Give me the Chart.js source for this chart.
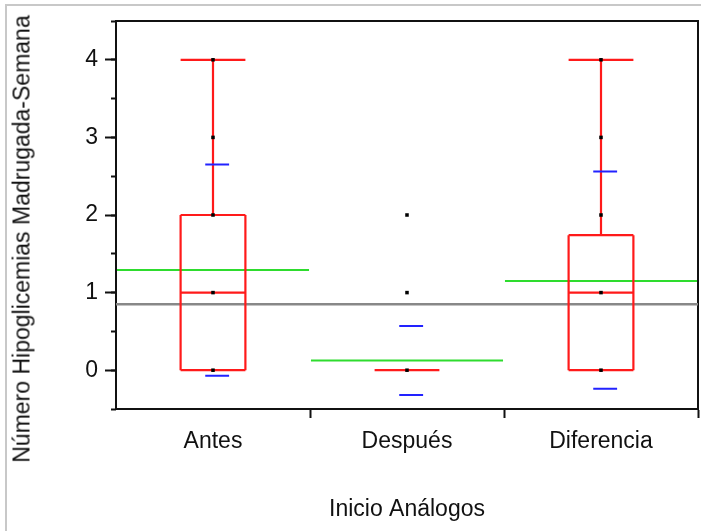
<!DOCTYPE html>
<html>
<head>
<meta charset="utf-8">
<script src="https://cdn.jsdelivr.net/npm/chart.js@4"></script>
<style>
  html, body { margin: 0; padding: 0; background: #fff; }
  #wrap { position: relative; width: 701px; height: 531px; overflow: hidden; }
  #frame { position: absolute; left: 5px; top: 4px; width: 720px; height: 560px;
           border-left: 2px solid #c8c8c8; border-top: 2px solid #c8c8c8; }
  #ytitle { position: absolute; left: 22px; top: 239px; transform: translate(-50%, -50%) rotate(-90deg);
            white-space: nowrap; font: 23px "Liberation Sans", Arial, sans-serif; color: #111; }
  canvas { position: absolute; left: 0; top: 0; }
</style>
</head>
<body>
<div id="wrap">
  <div id="frame"></div>
  <canvas id="chart" width="701" height="531"></canvas>
  <div id="ytitle">Número Hipoglicemias Madrugada-Semana</div>
</div>
<script>
const categories = ["Antes", "Después", "Diferencia"];
const mins = [0, 0, 0];
const q1s = [0, 0, 0];
const medians = [1, 0, 1];
const q3s = [2, 0, 1.74];
const maxs = [4, 0, 4];
const means = [1.29, 0.125, 1.15];
const sdHigh = [2.65, 0.57, 2.56];
const sdLow = [-0.07, -0.32, -0.24];
const grandMean = 0.85;
const antesPoints = [0, 1, 2, 3, 4];
const despuesPoints = [0, 1, 2];
const diferenciaPoints = [0, 1, 2, 3, 4];
const xTitle = "Inicio Análogos";

const BOX_W = 0.167;

// turn [x1, y1, x2, y2] pieces into one broken line
function segments(list) {
  const out = [];
  list.forEach(s => {
    out.push({ x: s[0], y: s[1] }, { x: s[2], y: s[3] }, { x: s[2], y: null });
  });
  return out;
}

const boxSegs = [], meanSegs = [], sdSegs = [];
categories.forEach((cat, i) => {
  const c = i + 0.5, l = c - BOX_W, r = c + BOX_W;
  boxSegs.push(
    [l, q1s[i], l, q3s[i]], [r, q1s[i], r, q3s[i]],
    [l, q3s[i], r, q3s[i]], [l, q1s[i], r, q1s[i]],
    [l, medians[i], r, medians[i]],
    [c, q3s[i], c, maxs[i]], [l, maxs[i], r, maxs[i]],
    [c, q1s[i], c, mins[i]], [l, mins[i], r, mins[i]]
  );
  meanSegs.push([i + 0.005, means[i], i + 0.995, means[i]]);
  sdSegs.push([c - 0.04, sdHigh[i], c + 0.083, sdHigh[i]], [c - 0.04, sdLow[i], c + 0.083, sdLow[i]]);
});

const dots = [];
[antesPoints, despuesPoints, diferenciaPoints].forEach((pts, i) => {
  pts.forEach(v => dots.push({ x: i + 0.5, y: v }));
});

Chart.defaults.font.family = "'Liberation Sans', Arial, sans-serif";
Chart.defaults.font.size = 23;
Chart.defaults.color = "#111";

const lineStyle = { type: "line", pointRadius: 0, tension: 0, spanGaps: false, borderCapStyle: "butt", fill: false };

new Chart(document.getElementById("chart"), {
  data: {
    datasets: [
      { type: "scatter", data: dots, pointStyle: "rect", pointRadius: 2.5, borderWidth: 0,
        backgroundColor: "#000", pointHoverRadius: 2.5 },
      { ...lineStyle, data: segments(sdSegs), borderColor: "#2222ff", borderWidth: 2 },
      { ...lineStyle, data: segments(boxSegs), borderColor: "#ff1a1a", borderWidth: 2.2 },
      { ...lineStyle, data: segments(meanSegs), borderColor: "#2edc2e", borderWidth: 2 },
      { ...lineStyle, data: segments([[0, grandMean, 3, grandMean]]), borderColor: "#888", borderWidth: 2.5 }
    ]
  },
  options: {
    responsive: false,
    animation: false,
    events: [],
    layout: { padding: { left: 76, top: 21, right: 3, bottom: 0 } },
    plugins: { legend: { display: false }, tooltip: { enabled: false } },
    scales: {
      x: {
        type: "linear", min: 0, max: 3, position: "bottom",
        afterBuildTicks: s => { s.ticks = [0.5, 1, 1.5, 2, 2.5, 3].map(v => ({ value: v })); },
        afterFit: s => { s.height = 122; s.paddingLeft = 0; s.paddingRight = 0; },
        ticks: { autoSkip: false, maxRotation: 0, padding: 10,
                 callback: v => Number.isInteger(v) ? "" : categories[Math.floor(v)] },
        grid: { drawOnChartArea: false, tickLength: 9, tickWidth: 2,
                tickColor: ctx => (Number.isInteger(ctx.tick.value) && ctx.tick.value > 0) ? "#111" : "rgba(0,0,0,0)" },
        border: { color: "#111", width: 2 },
        title: { display: true, text: xTitle, padding: { top: 0, bottom: 8 } }
      },
      y: {
        type: "linear", min: -0.5, max: 4.5, position: "left", weight: 1,
        afterFit: s => { s.width = 40; },
        ticks: { stepSize: 0.5, padding: 7,
                 callback: v => Number.isInteger(v) ? String(v) : "" },
        grid: { drawOnChartArea: false, tickLength: 11, tickWidth: 2,
                tickColor: ctx => Number.isInteger(ctx.tick.value) ? "#111" : "rgba(0,0,0,0)" },
        border: { color: "#111", width: 2 }
      },
      yMinor: {
        type: "linear", min: -0.5, max: 4.5, position: "left", weight: 0,
        afterFit: s => { s.width = 0; },
        ticks: { display: false, stepSize: 0.5 },
        grid: { drawOnChartArea: false, tickLength: 5, tickWidth: 2, tickColor: "#111" },
        border: { display: false }
      },
      xTop: {
        type: "linear", min: 0, max: 3, position: "top",
        afterFit: s => { s.height = 0; },
        ticks: { display: false },
        grid: { drawOnChartArea: false, drawTicks: false },
        border: { color: "#111", width: 2 }
      },
      yRight: {
        type: "linear", min: -0.5, max: 4.5, position: "right",
        afterFit: s => { s.width = 0; },
        ticks: { display: false },
        grid: { drawOnChartArea: false, drawTicks: false },
        border: { color: "#111", width: 2 }
      }
    }
  }
});
</script>
</body>
</html>
